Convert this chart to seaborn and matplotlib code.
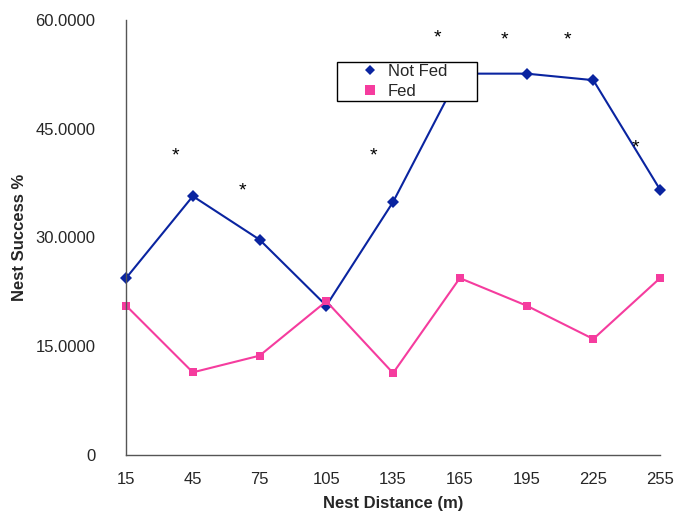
import matplotlib
matplotlib.use("Agg")
import matplotlib.pyplot as plt
import seaborn as sns
import pandas as pd
from matplotlib.lines import Line2D

distance = [15, 45, 75, 105, 135, 165, 195, 225, 255]
not_fed = [24.4, 35.7, 29.7, 20.6, 34.9, 52.6, 52.6, 51.7, 36.6]
fed = [20.6, 11.4, 13.7, 21.2, 11.3, 24.4, 20.6, 16.0, 24.4]
star_x = [37.4, 67.5, 126.3, 155.0, 185.0, 213.3, 243.8]
star_y = [41.3, 36.4, 41.3, 57.5, 57.3, 57.3, 42.4]
y_ticks = [0, 15, 30, 45, 60]
y_labels = ["0", "15.0000", "30.0000", "45.0000", "60.0000"]

sns.set_style("white")
plt.rcParams['font.family'] = ['Liberation Sans', 'DejaVu Sans']

df = pd.DataFrame({
    "distance": distance * 2,
    "value": not_fed + fed,
    "group": ["Not Fed"] * len(distance) + ["Fed"] * len(distance),
})

fig = plt.figure(figsize=(6.89, 5.14), dpi=100)
ax = fig.add_axes([0.183, 0.1148, 0.775, 0.8463])

c_nf = "#0A24A0"
c_f = "#F53C9E"
sns.lineplot(data=df, x="distance", y="value", hue="group", style="group",
             palette={"Not Fed": c_nf, "Fed": c_f},
             markers={"Not Fed": "D", "Fed": "s"}, dashes=False,
             markersize=6, markeredgewidth=0, linewidth=1.5, ax=ax, legend=False)
for ln in ax.lines:
    ln.set_clip_on(False)

for x, y in zip(star_x, star_y):
    ax.text(x, y, "*", fontsize=14, ha="center", va="center", color="black")

ax.set_xlim(15, 255)
ax.set_ylim(0, 60)
ax.set_xticks(distance)
ax.set_xticklabels([str(d) for d in distance], fontsize=12)
ax.set_yticks(y_ticks)
ax.set_yticklabels(y_labels, fontsize=12)
ax.tick_params(axis="y", direction="out", length=5, width=1, color="#555555", pad=17)
ax.tick_params(axis="x", direction="inout", length=7, width=1, color="#555555", pad=9)
ax.set_xlabel("Nest Distance (m)", fontsize=12, fontweight="bold", labelpad=6)
ax.set_ylabel("Nest Success %", fontsize=12, fontweight="bold", labelpad=6)
for s in ["top", "right"]:
    ax.spines[s].set_visible(False)
for s in ["left", "bottom"]:
    ax.spines[s].set_color("#555555")
    ax.spines[s].set_linewidth(1)

handles = [Line2D([], [], color=c_nf, marker="D", linestyle="none", markersize=5, markeredgewidth=0),
           Line2D([], [], color=c_f, marker="s", linestyle="none", markersize=7, markeredgewidth=0)]
leg = ax.legend(handles, ["Not Fed      ", "Fed"], loc="upper left",
                bbox_to_anchor=(0.395, 0.903), frameon=True, fancybox=False,
                edgecolor="black", framealpha=1, fontsize=12, handletextpad=-0.85,
                borderpad=0.1, labelspacing=0.3, handlelength=3.8, borderaxespad=0)
leg.get_frame().set_linewidth(1)

fig.savefig("out.png", dpi=100)
